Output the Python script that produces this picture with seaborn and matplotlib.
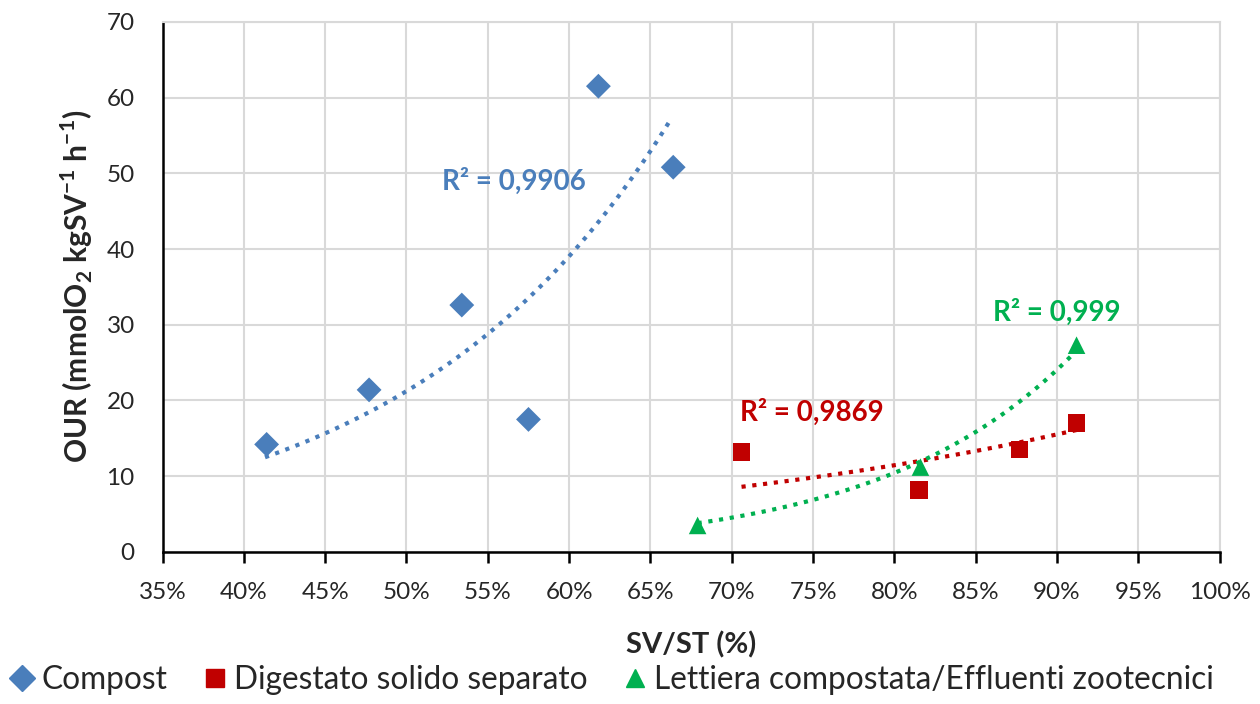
import matplotlib
matplotlib.use('Agg')
import matplotlib.pyplot as plt
from matplotlib.ticker import PercentFormatter, MultipleLocator
import numpy as np
import pandas as pd
import seaborn as sns

# values (SV/ST in %, OUR in mmolO2/kgSV/h)
compost_x = [41.4, 47.7, 53.4, 57.5, 61.8, 66.4]
compost_y = [14.2, 21.4, 32.6, 17.5, 61.5, 50.8]
digestato_x = [70.6, 81.5, 87.7, 91.2]
digestato_y = [13.2, 8.2, 13.5, 17.0]
lettiera_x = [67.9, 81.6, 91.2]
lettiera_y = [3.5, 11.2, 27.3]

# exponential trendlines as drawn in the reference: (x start, y start, x end, y end)
compost_trend = [41.3, 12.5, 66.3, 57.3]
digestato_trend = [70.6, 8.6, 91.2, 16.1]
lettiera_trend = [67.9, 3.8, 91.2, 26.6]

series_names = ['Compost', 'Digestato solido separato',
                'Lettiera compostata/Effluenti zootecnici']
r2_labels = ['R² = 0,9906', 'R² = 0,9869', 'R² = 0,999']

colors = {series_names[0]: '#4a7ebb', series_names[1]: '#c00000',
          series_names[2]: '#00b050'}
markers = {series_names[0]: 'D', series_names[1]: 's', series_names[2]: '^'}

df = pd.DataFrame({
    'x': compost_x + digestato_x + lettiera_x,
    'y': compost_y + digestato_y + lettiera_y,
    'serie': [series_names[0]] * len(compost_x) + [series_names[1]] * len(digestato_x)
             + [series_names[2]] * len(lettiera_x),
})

sns.set_style('white')
plt.rcParams['font.family'] = ['Lato', 'DejaVu Sans']
plt.rcParams['mathtext.fontset'] = 'custom'
plt.rcParams['mathtext.rm'] = 'Lato'
plt.rcParams['mathtext.bf'] = 'Lato:bold'

fig, ax = plt.subplots(figsize=(12.6, 7.04), dpi=100)
fig.subplots_adjust(left=0.129, right=0.968, top=0.969, bottom=0.216)

# trendlines y = a*exp(b*x) through the read endpoints
for name, (x0, y0, x1, y1) in zip(series_names, [compost_trend, digestato_trend, lettiera_trend]):
    b = np.log(y1 / y0) / (x1 - x0)
    xx = np.linspace(x0, x1, 100)
    ax.plot(xx, y0 * np.exp(b * (xx - x0)), linestyle=(0, (1, 1.6)), lw=3,
            color=colors[name], zorder=2)

sns.scatterplot(data=df, x='x', y='y', hue='serie', style='serie', palette=colors,
                markers=markers, s=160, edgecolor='none', ax=ax, zorder=3, legend=False)

# R² labels
ax.text(56.6, 49.0, r2_labels[0], color=colors[series_names[0]], fontsize=20,
        fontweight='bold', ha='center', va='center')
ax.text(74.9, 18.5, r2_labels[1], color=colors[series_names[1]], fontsize=20,
        fontweight='bold', ha='center', va='center')
ax.text(90.0, 31.6, r2_labels[2], color=colors[series_names[2]], fontsize=20,
        fontweight='bold', ha='center', va='center')

ax.set_xlim(35, 100)
ax.set_ylim(0, 70)
ax.xaxis.set_major_locator(MultipleLocator(5))
ax.yaxis.set_major_locator(MultipleLocator(10))
ax.xaxis.set_major_formatter(PercentFormatter(100, decimals=0))
ax.grid(True, color='#d9d9d9', lw=1.5)
ax.set_axisbelow(True)

for side in ['top', 'right']:
    ax.spines[side].set_color('#d9d9d9')
    ax.spines[side].set_linewidth(1.5)
for side in ['left', 'bottom']:
    ax.spines[side].set_color('black')
    ax.spines[side].set_linewidth(1.8)

ax.tick_params(axis='x', bottom=True, direction='out', length=8, width=1.8,
               color='black', labelsize=17.5, pad=14)
ax.tick_params(axis='y', length=0, labelsize=17.5, pad=20)

ax.set_xlabel('SV/ST (%)', fontsize=21, fontweight='bold', labelpad=20)
ax.set_ylabel(r'OUR (mmolO$_\mathbf{2}$ kgSV$^\mathbf{-1}$ h$^\mathbf{-1}$)',
              fontsize=21.5, fontweight='bold', labelpad=8)

handles = [plt.Line2D([], [], marker=markers[n], color=colors[n], linestyle='none',
                      markersize=13) for n in series_names]
fig.legend(handles, series_names, loc='lower left', bbox_to_anchor=(-0.02, -0.028),
           ncol=3, frameon=False, fontsize=22.8, handletextpad=0.0, columnspacing=0.9,
           handlelength=1.2)

fig.savefig('out.png', dpi=100)
